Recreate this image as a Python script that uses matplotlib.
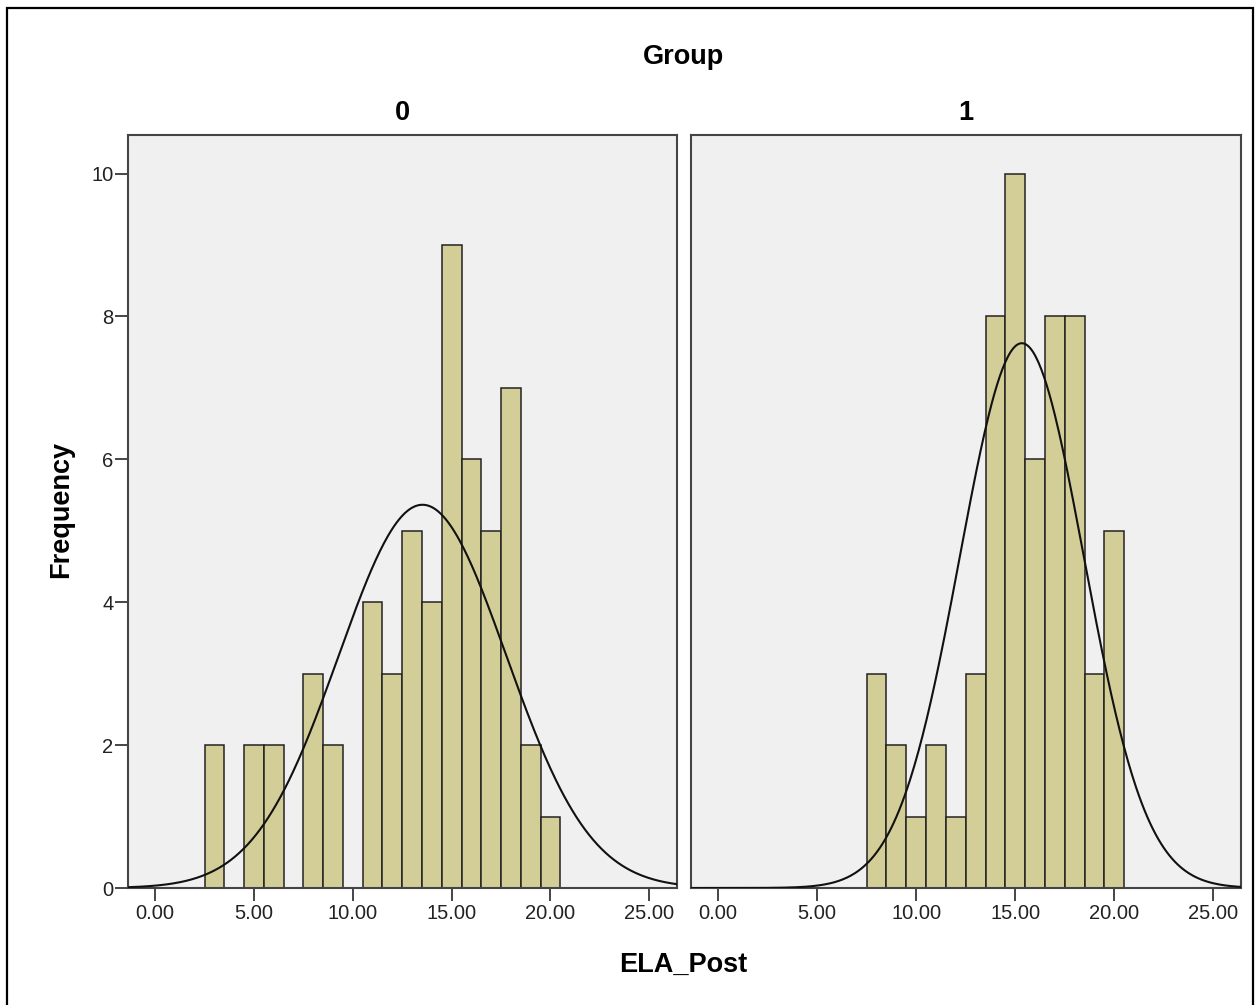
import numpy as np
import matplotlib
matplotlib.use('Agg')
import matplotlib.pyplot as plt
from matplotlib.patches import Rectangle

plt.rcParams['font.family'] = ['Liberation Sans', 'DejaVu Sans']

# ELA_Post score counts per group (bin width 1, centred on whole scores)
scores_0 = [3, 5, 6, 8, 9, 11, 12, 13, 14, 15, 16, 17, 18, 19, 20]
counts_0 = [2, 2, 2, 3, 2, 4, 3, 5, 4, 9, 6, 5, 7, 2, 1]
scores_1 = [8, 9, 10, 11, 12, 13, 14, 15, 16, 17, 18, 19, 20]
counts_1 = [3, 2, 1, 2, 1, 3, 8, 10, 6, 8, 8, 3, 5]
groups = ['0', '1']
xticks = [0, 5, 10, 15, 20, 25]
yticks = [0, 2, 4, 6, 8, 10]

W, H = 1257, 1005
fig = plt.figure(figsize=(W / 100, H / 100), dpi=100)
fig.patch.set_facecolor('white')

bar_col = '#D3CE97'
bg = '#F0F0F0'
frame = '#454545'

boxes = [(128, 677), (691, 1241)]
top, bottom = 135, 888
data = [(scores_0, counts_0), (scores_1, counts_1)]

for i, ((x0, x1), (sc, ct), g) in enumerate(zip(boxes, data, groups)):
    ax = fig.add_axes([x0 / W, 1 - bottom / H, (x1 - x0) / W, (bottom - top) / H])
    ax.set_facecolor(bg)
    sc = np.array(sc, dtype=float)
    ct = np.array(ct, dtype=float)
    ax.bar(sc, ct, width=1.0, color=bar_col, edgecolor='#222222', linewidth=1.1, zorder=2)

    # normal curve fitted to the group's scores
    n = ct.sum()
    mu = (sc * ct).sum() / n
    sd = np.sqrt(((sc - mu) ** 2 * ct).sum() / (n - 1))
    xs = np.linspace(-1.37, 26.4, 400)
    ys = n * 1.0 / (sd * np.sqrt(2 * np.pi)) * np.exp(-0.5 * ((xs - mu) / sd) ** 2)
    ax.plot(xs, ys, color='#111111', lw=1.5, zorder=3)

    ax.set_xlim(-1.37, 26.4)
    ax.set_ylim(0, 10.54)
    ax.set_xticks(xticks)
    ax.set_xticklabels(['%.2f' % v for v in xticks], fontsize=14.5, color='#222222')
    ax.tick_params(axis='x', length=9.5, width=1.4, color=frame, pad=2)
    if i == 0:
        ax.set_yticks(yticks)
        ax.set_yticklabels([str(v) for v in yticks], fontsize=14.5, color='#222222')
        ax.tick_params(axis='y', length=9.5, width=1.4, color=frame, pad=1)
    else:
        ax.set_yticks([])
    for s in ax.spines.values():
        s.set_color(frame)
        s.set_linewidth(1.5)
    fig.text((x0 + x1) / 2 / W, 1 - 113 / H, g, ha='center', va='center',
             fontsize=19.5, fontweight='bold')

fig.text(683 / W, 1 - 57 / H, 'Group', ha='center', va='center', fontsize=19.5, fontweight='bold')
fig.text(683 / W, 1 - 965 / H, 'ELA_Post', ha='center', va='center', fontsize=19.5, fontweight='bold')
fig.text(61 / W, 1 - 509 / H, 'Frequency', ha='center', va='center', rotation=90,
         fontsize=19.5, fontweight='bold')

# outer frame
fig.add_artist(Rectangle((7 / W, -0.02), (1253 - 7) / W, 1.02 - 8 / H,
                         transform=fig.transFigure, fill=False, edgecolor='black', lw=1.6))

fig.savefig('out.png', dpi=100)
